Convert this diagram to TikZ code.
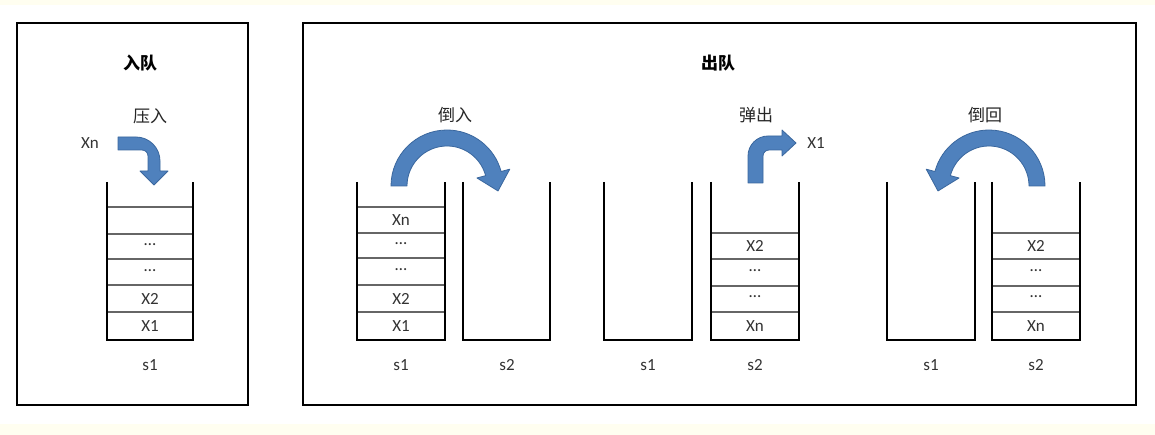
\documentclass[tikz,border=0pt]{standalone}
\usepackage{fontspec}
\setmainfont{Carlito}
\newfontfamily\cjk{Noto Sans CJK SC}
\usetikzlibrary{calc}
\definecolor{arrowblue}{HTML}{4F81BD}
\definecolor{arrowedge}{HTML}{3A679E}
\definecolor{cream}{HTML}{FFFEF0}
\newcommand{\cupat}[2]{\draw[wall] (#1,182) -- (#1,340) -- (#2,340) -- (#2,182);}
\begin{document}
\begin{tikzpicture}[x=1pt,y=-1pt,
  frame/.style={line width=2.6pt,draw=black},
  wall/.style={line width=2.8pt,draw=black,line join=miter},
  sep/.style={line width=1.1pt,draw=black!60},
  cell/.style={font=\fontsize{17}{17}\selectfont,text=black!80,inner sep=0pt},
  cn/.style={font=\cjk\fontsize{17}{17}\selectfont,text=black!85,inner sep=0pt},
  title/.style={font=\cjk\bfseries\fontsize{17}{17}\selectfont,text=black,inner sep=0pt},
  bluearrow/.style={fill=arrowblue,draw=arrowedge,line width=0.8pt,line join=round}]
\useasboundingbox (0,0) rectangle (1155,435);
\fill[cream] (0,0) rectangle (1155,435);
\fill[white] (0,5) rectangle (1155,424);
% frames
\draw[frame] (17,23) rectangle (248,405);
\draw[frame] (303,23) rectangle (1136,405);
% titles
\node[title] (t1) at (140,63) {入队};
\node[title] (t2) at (718,63) {出队};
% ---------- panel 1 : push ----------
\node[cn] (push) at (150,116) {压入};
\node[cell] (xn0) at (90,143) {Xn};
\draw[bluearrow] (118,137) -- (136,137) arc[start angle=90,end angle=0,radius=24pt]
  -- (160,171) -- (168,171) -- (154,185) -- (140,171) -- (148,171) -- (148,156)
  arc[start angle=0,end angle=90,radius=6pt] -- (118,150) -- cycle;
\cupat{107}{193}
\foreach \y in {207,234,259,285,312} \draw[sep] (108.4,\y) -- (191.6,\y);
\node[cell] (a1) at (150,245) {…};
\node[cell] (a2) at (150,271) {…};
\node[cell] (a3) at (150,298.5) {X2};
\node[cell] (a4) at (150,326) {X1};
\node[cell] (as1) at (150,365) {s1};
% ---------- panel 2 : pour in ----------
\node[cn] (pour) at (455,115) {倒入};
\coordinate (c2) at (447,186);
\draw[bluearrow] ($(c2)+(180:56pt)$) arc[start angle=180,end angle=15,radius=56pt]
  -- ($(c2)+(15:65pt)$) -- ($(c2)+(15:48pt)+(-75:18pt)$) -- ($(c2)+(15:31pt)$)
  -- ($(c2)+(15:40pt)$) arc[start angle=15,end angle=180,radius=40pt] -- cycle;
\cupat{357}{445}
\cupat{463}{550}
\foreach \y in {207,233,258,285,312} \draw[sep] (358.4,\y) -- (443.6,\y);
\node[cell] (b1) at (401,220) {Xn};
\node[cell] (b2) at (401,244) {…};
\node[cell] (b3) at (401,270) {…};
\node[cell] (b4) at (401,298.5) {X2};
\node[cell] (b5) at (401,326) {X1};
\node[cell] (bs1) at (401,365) {s1};
\node[cell] (bs2) at (507,365) {s2};
% ---------- panel 3 : pop ----------
\node[cn] (pop) at (756,115) {弹出};
\node[cell] (x1out) at (816,143) {X1};
\draw[bluearrow] (748,183) -- (748,156) arc[start angle=180,end angle=90,radius=20pt]
  -- (782,136) -- (782,130) -- (796,143) -- (782,156) -- (782,150) -- (769,150)
  arc[start angle=90,end angle=180,radius=6pt] -- (763,183) -- cycle;
\cupat{604}{692}
\cupat{711}{799}
\foreach \y in {233,259,286,312} \draw[sep] (712.4,\y) -- (797.6,\y);
\node[cell] (c1) at (755,246) {X2};
\node[cell] (c2t) at (755,271) {…};
\node[cell] (c3) at (755,297) {…};
\node[cell] (c4t) at (755,326) {Xn};
\node[cell] (cs1) at (648,365) {s1};
\node[cell] (cs2) at (755,365) {s2};
% ---------- panel 4 : pour back ----------
\node[cn] (back) at (985,115) {倒回};
\coordinate (c4) at (989,186);
\draw[bluearrow] ($(c4)+(0:56pt)$) arc[start angle=0,end angle=165,radius=56pt]
  -- ($(c4)+(165:65pt)$) -- ($(c4)+(165:48pt)+(255:18pt)$) -- ($(c4)+(165:31pt)$)
  -- ($(c4)+(165:40pt)$) arc[start angle=165,end angle=0,radius=40pt] -- cycle;
\cupat{887}{975}
\cupat{992}{1080}
\foreach \y in {233,259,286,312} \draw[sep] (993.4,\y) -- (1078.6,\y);
\node[cell] (d1) at (1036,246) {X2};
\node[cell] (d2) at (1036,271) {…};
\node[cell] (d3) at (1036,297) {…};
\node[cell] (d4) at (1036,326) {Xn};
\node[cell] (ds1) at (931,365) {s1};
\node[cell] (ds2) at (1036,365) {s2};
\end{tikzpicture}
\end{document}
